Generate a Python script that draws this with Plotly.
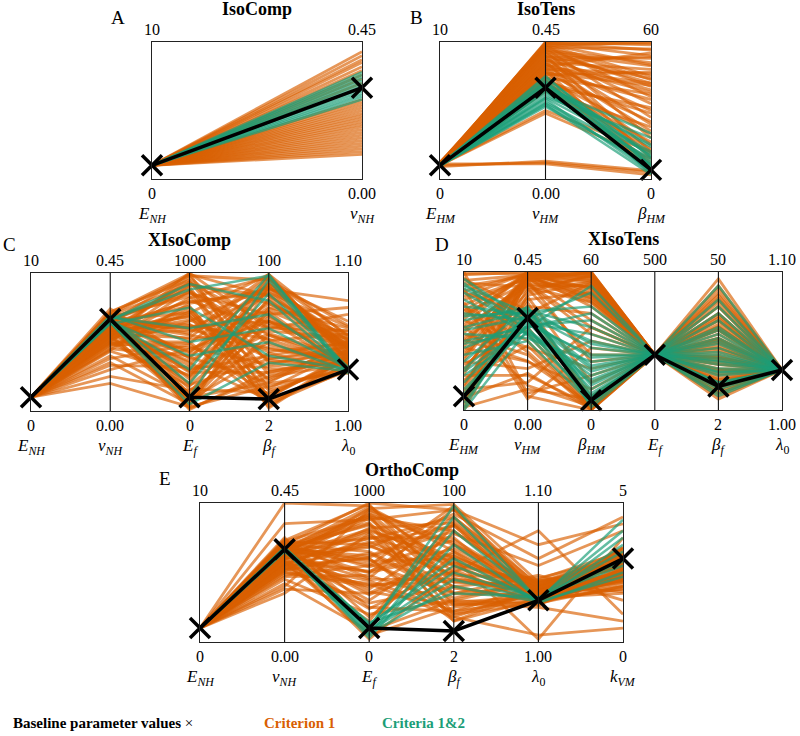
import plotly.graph_objects as go

W, H = 800, 736
ORANGE = "rgba(217,95,2,0.66)"
GREEN = "rgba(27,158,119,0.68)"
FONT = "Liberation Serif, DejaVu Serif, serif"

# ---------------- Panel A : IsoComp ----------------
A_names = ["<i>E</i><sub><i>NH</i></sub>", "<i>ν</i><sub><i>NH</i></sub>"]
A_lo = [0, 0.0]
A_hi = [10, 0.45]
A_top = ["10", "0.45"]
A_bot = ["0", "0.00"]
A_base = [1.0, 0.30]
A_orange = [[1.0, v] for v in [0.418, 0.405, 0.392, 0.383, 0.369, 0.356, 0.342, 0.329, 0.315,
                               0.261, 0.252, 0.243, 0.234, 0.225, 0.216, 0.207, 0.198, 0.189,
                               0.180, 0.171, 0.162, 0.153, 0.144, 0.135, 0.126, 0.117, 0.108,
                               0.099, 0.090, 0.081]]
A_green = [[1.0, v] for v in [0.351, 0.342, 0.333, 0.324, 0.315, 0.306, 0.297, 0.288, 0.279,
                              0.270, 0.261]]

# ---------------- Panel B : IsoTens ----------------
B_names = ["<i>E</i><sub><i>HM</i></sub>", "<i>ν</i><sub><i>HM</i></sub>", "<i>β</i><sub><i>HM</i></sub>"]
B_lo = [0, 0.0, 0]
B_hi = [10, 0.45, 60]
B_top = ["10", "0.45", "60"]
B_bot = ["0", "0.00", "0"]
B_base = [1.0, 0.30, 4.0]
B_orange = [
    [1.0, 0.450, 58.8], [1.1, 0.446, 54], [1.0, 0.441, 45], [1.2, 0.437, 36], [1.0, 0.432, 57],
    [1.1, 0.428, 27], [1.0, 0.423, 51], [1.2, 0.419, 18], [0.9, 0.414, 42], [1.1, 0.410, 33],
    [1.0, 0.405, 12], [1.0, 0.401, 52.8], [1.2, 0.396, 24], [1.0, 0.392, 39], [0.9, 0.387, 9],
    [1.1, 0.383, 48], [1.0, 0.378, 30], [1.2, 0.374, 21], [1.0, 0.369, 55.2], [1.1, 0.365, 15],
    [1.0, 0.360, 42], [0.9, 0.356, 6], [1.1, 0.351, 34.8], [1.0, 0.347, 25.2], [1.2, 0.342, 46.8],
    [1.0, 0.338, 10.8], [1.1, 0.333, 37.2], [1.0, 0.329, 19.8], [1.0, 0.324, 4.8], [0.9, 0.320, 28.8],
    [1.1, 0.315, 16.2], [1.0, 0.311, 7.2], [1.0, 0.306, 31.2], [1.1, 0.297, 13.2], [1.0, 0.288, 22.8],
    [1.0, 0.437, 60], [1.1, 0.446, 59.4], [1.0, 0.225, 12], [1.0, 0.216, 9], [1.0, 0.054, 3],
    [1.1, 0.050, 1.8], [0.9, 0.059, 3.6],
    [1.0, 0.448, 56.5], [1.1, 0.443, 50], [1.0, 0.434, 43.5], [1.2, 0.426, 40.5], [1.0, 0.417, 49.5],
    [1.1, 0.403, 44], [1.0, 0.389, 53.5], [1.0, 0.376, 38], [1.1, 0.362, 46], [1.0, 0.349, 41],
]
B_green = [
    [1.0, 0.324, 6], [1.0, 0.315, 10], [1.1, 0.306, 4], [1.0, 0.297, 15], [0.9, 0.288, 8],
    [1.0, 0.279, 12], [1.0, 0.270, 18], [1.1, 0.261, 3], [1.0, 0.252, 9], [1.0, 0.248, 5],
    [1.0, 0.320, 2.5], [1.0, 0.310, 14], [1.0, 0.290, 7], [1.0, 0.266, 11], [1.0, 0.300, 20],
    [1.0, 0.300, 3.5], [1.0, 0.338, 5.5], [1.0, 0.333, 9.5], [1.0, 0.243, 2], [1.0, 0.238, 6.5],
]

# ---------------- Panel C : XIsoComp ----------------
C_names = ["<i>E</i><sub><i>NH</i></sub>", "<i>ν</i><sub><i>NH</i></sub>", "<i>E</i><sub><i>f</i></sub>",
           "<i>β</i><sub><i>f</i></sub>", "<i>λ</i><sub>0</sub>"]
C_lo = [0, 0.0, 0, 2, 1.00]
C_hi = [10, 0.45, 1000, 100, 1.10]
C_top = ["10", "0.45", "1000", "100", "1.10"]
C_bot = ["0", "0.00", "0", "2", "1.00"]
C_base = [1.0, 0.30, 100, 10.5, 1.03]
C_orange = [
    [1.0, 0.315, 980, 95.1, 1.055], [1.0, 0.293, 900, 11.8, 1.040], [1.0, 0.270, 800, 60.8, 1.070],
    [1.0, 0.248, 700, 31.4, 1.035], [1.0, 0.306, 600, 85.3, 1.045], [1.0, 0.225, 500, 6.9, 1.030],
    [1.0, 0.203, 400, 75.5, 1.060], [1.0, 0.279, 300, 41.2, 1.050], [1.0, 0.261, 200, 98.0, 1.038],
    [1.0, 0.180, 100, 21.6, 1.028], [1.0, 0.158, 50, 55.9, 1.033], [1.0, 0.324, 950, 36.3, 1.042],
    [1.0, 0.297, 850, 70.6, 1.075], [1.0, 0.234, 750, 16.7, 1.032], [1.0, 0.216, 650, 90.2, 1.052],
    [1.0, 0.288, 550, 46.1, 1.036], [1.0, 0.135, 450, 65.7, 1.048], [1.0, 0.270, 350, 9.8, 1.029],
    [1.0, 0.252, 250, 80.4, 1.044], [1.0, 0.113, 150, 51.0, 1.031], [1.0, 0.315, 20, 26.5, 1.034],
    [1.0, 0.239, 1000, 60.8, 1.058], [1.0, 0.302, 880, 4.0, 1.039], [1.0, 0.198, 780, 88.2, 1.080],
    [1.0, 0.275, 680, 39.2, 1.046], [1.0, 0.257, 580, 72.6, 1.030], [1.0, 0.171, 480, 13.8, 1.037],
    [1.0, 0.333, 380, 95.1, 1.062], [1.0, 0.284, 280, 29.4, 1.041], [1.0, 0.225, 180, 68.6, 1.035],
    [1.0, 0.248, 80, 43.2, 1.027], [1.0, 0.311, 920, 78.4, 1.050], [1.0, 0.207, 720, 23.6, 1.043],
    [1.0, 0.266, 620, 53.0, 1.033], [1.0, 0.293, 420, 92.2, 1.065], [1.0, 0.149, 320, 33.4, 1.039],
    [1.0, 0.320, 120, 62.8, 1.047], [1.0, 0.090, 30, 19.6, 1.030], [1.0, 0.243, 970, 49.0, 1.036],
    [1.0, 0.279, 520, 58.8, 1.053],
    [1.0, 0.290, 990, 84.0, 1.045], [1.0, 0.262, 940, 28.0, 1.038], [1.0, 0.300, 860, 52.0, 1.056],
    [1.0, 0.230, 820, 97.0, 1.041], [1.0, 0.284, 760, 8.0, 1.034], [1.0, 0.254, 660, 44.0, 1.049],
    [1.0, 0.310, 560, 99.0, 1.037], [1.0, 0.220, 460, 35.0, 1.044], [1.0, 0.270, 360, 70.0, 1.032],
    [1.0, 0.195, 260, 90.0, 1.051], [1.0, 0.305, 160, 15.0, 1.036], [1.0, 0.240, 60, 66.0, 1.040],
    [1.0, 0.288, 30, 90.0, 1.045], [1.0, 0.300, 70, 75.0, 1.052], [1.0, 0.275, 130, 82.0, 1.038],
    [1.0, 0.310, 230, 93.0, 1.047], [1.0, 0.260, 330, 88.0, 1.042], [1.0, 0.295, 430, 78.0, 1.055],
    [1.0, 0.250, 530, 97.0, 1.036], [1.0, 0.285, 630, 25.0, 1.048], [1.0, 0.240, 730, 12.0, 1.041],
    [1.0, 0.305, 830, 38.0, 1.033], [1.0, 0.268, 930, 64.0, 1.058], [1.0, 0.320, 995, 18.0, 1.044],
    [1.0, 0.226, 870, 56.0, 1.037], [1.0, 0.280, 790, 86.0, 1.061], [1.0, 0.255, 690, 5.0, 1.040],
    [1.0, 0.300, 590, 47.0, 1.035], [1.0, 0.215, 490, 92.0, 1.046], [1.0, 0.290, 390, 22.0, 1.051],
    [1.0, 0.272, 290, 57.0, 1.039], [1.0, 0.312, 190, 39.0, 1.043], [1.0, 0.245, 90, 73.0, 1.049],
    [1.0, 0.283, 10, 30.0, 1.036], [1.0, 0.298, 710, 99.0, 1.054], [1.0, 0.262, 610, 66.0, 1.031],
    [1.0, 0.235, 910, 84.0, 1.047],
]
C_green = [
    [1.0, 0.297, 880, 98.0, 1.030], [1.0, 0.288, 100, 95.1, 1.028], [1.0, 0.306, 600, 70.6, 1.031],
    [1.0, 0.293, 400, 51.0, 1.029], [1.0, 0.302, 200, 85.3, 1.032], [1.0, 0.284, 750, 41.2, 1.030],
    [1.0, 0.297, 300, 99.0, 1.027], [1.0, 0.311, 500, 60.8, 1.031], [1.0, 0.288, 50, 36.3, 1.029],
    [1.0, 0.297, 920, 80.4, 1.030],
]

# ---------------- Panel D : XIsoTens ----------------
D_names = ["<i>E</i><sub><i>HM</i></sub>", "<i>ν</i><sub><i>HM</i></sub>", "<i>β</i><sub><i>HM</i></sub>",
           "<i>E</i><sub><i>f</i></sub>", "<i>β</i><sub><i>f</i></sub>", "<i>λ</i><sub>0</sub>"]
D_lo = [0, 0.0, 0, 0, 2, 1.00]
D_hi = [10, 0.45, 60, 500, 50, 1.10]
D_top = ["10", "0.45", "60", "500", "50", "1.10"]
D_bot = ["0", "0.00", "0", "0", "2", "1.00"]
D_base = [1.0, 0.30, 4.2, 200, 10.2, 1.029]
D_orange = [
    [9.8, 0.450, 57, 200, 45.2, 1.029], [9.0, 0.437, 48, 200, 35.6, 1.029], [8.0, 0.428, 60, 200, 26.0, 1.029],
    [7.0, 0.414, 36, 200, 16.4, 1.029], [6.0, 0.405, 54, 200, 6.8, 1.029], [5.0, 0.396, 24, 200, 40.4, 1.029],
    [4.0, 0.383, 58.8, 200, 30.8, 1.029], [3.0, 0.369, 12, 200, 11.6, 1.029], [2.0, 0.360, 51, 200, 21.2, 1.029],
    [1.0, 0.351, 3, 200, 47.6, 1.029], [0.5, 0.338, 42, 200, 9.2, 1.029], [9.5, 0.324, 6, 200, 28.4, 1.029],
    [8.5, 0.315, 55.2, 200, 18.8, 1.029], [7.5, 0.225, 1.2, 200, 14.0, 1.029], [6.5, 0.203, 18, 200, 33.2, 1.029],
    [5.5, 0.180, 0, 200, 23.6, 1.029], [4.5, 0.158, 9, 200, 10.6, 1.029], [3.5, 0.135, 30, 200, 38.0, 1.029],
    [2.5, 0.113, 1.8, 200, 12.6, 1.029], [1.5, 0.090, 36, 200, 20.2, 1.029], [0.2, 0.068, 4.8, 200, 29.8, 1.029],
    [10.0, 0.054, 15, 200, 7.8, 1.029], [8.8, 0.045, 0, 200, 42.8, 1.029], [7.8, 0.036, 27, 200, 15.4, 1.029],
    [6.8, 0.441, 45, 200, 25.0, 1.029], [5.8, 0.419, 60, 200, 34.6, 1.029], [4.8, 0.432, 39, 200, 5.8, 1.029],
    [3.8, 0.446, 52.8, 200, 17.8, 1.029], [2.8, 0.410, 33, 200, 27.0, 1.029], [1.8, 0.392, 58.2, 200, 39.4, 1.029],
    [0.8, 0.423, 21, 200, 22.2, 1.029], [0.0, 0.374, 55.8, 200, 31.8, 1.029], [9.2, 0.401, 46.8, 200, 14.5, 1.029],
    [6.2, 0.450, 59.4, 200, 44.2, 1.029], [3.3, 0.270, 3, 200, 9.7, 1.029], [7.2, 0.446, 57.6, 200, 29.8, 1.029],
    [4.2, 0.437, 49.2, 200, 7.8, 1.029], [1.2, 0.441, 59.4, 200, 35.6, 1.029], [8.6, 0.446, 51.6, 200, 23.1, 1.029],
    [5.2, 0.410, 54, 200, 19.3, 1.029],
    [9.9, 0.445, 59, 200, 41.0, 1.029], [9.4, 0.440, 53, 200, 31.0, 1.029], [8.2, 0.447, 56, 200, 24.0, 1.029],
    [7.6, 0.432, 50, 200, 20.0, 1.029], [6.6, 0.449, 58, 200, 38.0, 1.029], [5.6, 0.425, 47, 200, 12.0, 1.029],
    [4.6, 0.444, 55, 200, 27.0, 1.029], [3.6, 0.430, 60, 200, 33.0, 1.029], [2.6, 0.448, 50.4, 200, 8.5, 1.029],
    [1.6, 0.436, 56.4, 200, 42.0, 1.029], [0.6, 0.450, 58.5, 200, 18.0, 1.029], [0.3, 0.428, 48.6, 200, 25.5, 1.029],
    [9.6, 0.250, 2, 200, 30.0, 1.029], [7.3, 0.190, 0.6, 200, 20.5, 1.029], [5.1, 0.160, 2.4, 200, 13.0, 1.029],
    [2.2, 0.210, 1, 200, 26.5, 1.029], [0.9, 0.120, 0.3, 200, 16.0, 1.029], [6.1, 0.080, 1.5, 200, 34.0, 1.029],
]
D_green = [
    [9.0, 0.315, 30, 200, 30.8, 1.029], [7.0, 0.293, 18, 200, 21.2, 1.029], [5.0, 0.270, 42, 200, 11.6, 1.029],
    [3.0, 0.306, 6, 200, 40.4, 1.029], [1.0, 0.279, 24, 200, 16.4, 1.029], [8.0, 0.248, 12, 200, 26.0, 1.029],
    [6.0, 0.324, 36, 200, 9.2, 1.029], [4.0, 0.225, 3, 200, 35.6, 1.029], [2.0, 0.297, 51, 200, 18.8, 1.029],
    [0.0, 0.261, 15, 200, 14.0, 1.029], [9.5, 0.288, 9, 200, 23.6, 1.029], [7.5, 0.311, 27, 200, 6.8, 1.029],
    [5.5, 0.234, 21, 200, 28.4, 1.029], [3.5, 0.338, 1.2, 200, 45.2, 1.029], [1.5, 0.275, 39, 200, 15.4, 1.029],
    [0.5, 0.302, 4.8, 200, 20.2, 1.029], [8.5, 0.266, 54, 200, 11.6, 1.029], [6.5, 0.333, 7.2, 200, 33.2, 1.029],
    [4.5, 0.284, 33, 200, 7.8, 1.029], [2.5, 0.252, 16.8, 200, 25.0, 1.029], [1.2, 0.315, 10.8, 200, 17.8, 1.029],
    [8.8, 0.288, 22.8, 200, 29.8, 1.029], [4.8, 0.257, 13.2, 200, 10.6, 1.029], [6.8, 0.320, 45, 200, 22.2, 1.029],
    [2.8, 0.270, 3, 200, 15.0, 1.029], [0.2, 0.329, 28.8, 200, 27.0, 1.029], [9.2, 0.243, 6, 200, 19.3, 1.029],
    [5.8, 0.302, 19.2, 200, 38.0, 1.029],
]

# ---------------- Panel E : OrthoComp ----------------
E_names = ["<i>E</i><sub><i>NH</i></sub>", "<i>ν</i><sub><i>NH</i></sub>", "<i>E</i><sub><i>f</i></sub>",
           "<i>β</i><sub><i>f</i></sub>", "<i>λ</i><sub>0</sub>", "<i>k</i><sub><i>VM</i></sub>"]
E_lo = [0, 0.0, 0, 2, 1.00, 0]
E_hi = [10, 0.45, 1000, 100, 1.10, 5]
E_top = ["10", "0.45", "1000", "100", "1.10", "5"]
E_bot = ["0", "0.00", "0", "2", "1.00", "0"]
E_base = [1.0, 0.30, 100, 9.8, 1.03, 3.0]
E_orange = [
    [1.0, 0.315, 1000, 95.1, 1.040, 3.00], [1.0, 0.293, 900, 80.4, 1.035, 2.50], [1.0, 0.270, 800, 60.8, 1.030, 2.25],
    [1.0, 0.324, 700, 41.2, 1.045, 3.25], [1.0, 0.248, 600, 21.6, 1.028, 2.00], [1.0, 0.306, 500, 90.2, 1.038, 2.75],
    [1.0, 0.225, 400, 51.0, 1.032, 1.75], [1.0, 0.279, 300, 70.6, 1.042, 3.10], [1.0, 0.203, 200, 31.4, 1.027, 2.40],
    [1.0, 0.338, 100, 85.3, 1.036, 2.90], [1.0, 0.261, 50, 26.5, 1.033, 2.10], [1.0, 0.180, 950, 55.9, 1.044, 2.60],
    [1.0, 0.297, 850, 16.7, 1.031, 1.90], [1.0, 0.234, 750, 75.5, 1.026, 3.40], [1.0, 0.315, 650, 36.3, 1.048, 1.50],
    [1.0, 0.216, 550, 98.0, 1.034, 2.80], [1.0, 0.284, 450, 46.1, 1.039, 2.30], [1.0, 0.171, 350, 65.7, 1.030, 3.00],
    [1.0, 0.333, 250, 23.6, 1.041, 1.80], [1.0, 0.252, 150, 88.2, 1.037, 3.20], [1.0, 0.450, 980, 51.0, 1.080, 1.00],
    [1.0, 0.383, 880, 95.1, 1.070, 4.25], [1.0, 0.158, 780, 19.6, 1.005, 0.50], [1.0, 0.270, 680, 92.2, 1.060, 4.50],
    [1.0, 0.311, 580, 60.8, 1.002, 3.75], [1.0, 0.212, 480, 29.4, 1.025, 0.75], [1.0, 0.297, 380, 78.4, 1.055, 4.00],
    [1.0, 0.239, 280, 41.2, 1.029, 2.50], [1.0, 0.320, 180, 62.8, 1.035, 2.20], [1.0, 0.189, 80, 31.4, 1.043, 2.70],
    [1.0, 0.288, 920, 70.6, 1.033, 2.00], [1.0, 0.257, 720, 49.0, 1.046, 3.05], [1.0, 0.302, 620, 84.3, 1.031, 2.85],
    [1.0, 0.225, 420, 19.6, 1.038, 2.35], [1.0, 0.275, 20, 53.0, 1.027, 2.65], [1.0, 0.329, 990, 36.3, 1.040, 3.15],
    [1.0, 0.300, 970, 66.0, 1.036, 2.55], [1.0, 0.265, 930, 44.0, 1.041, 2.95], [1.0, 0.310, 860, 28.0, 1.034, 2.15],
    [1.0, 0.245, 820, 86.0, 1.039, 3.35], [1.0, 0.285, 760, 56.0, 1.032, 2.45], [1.0, 0.230, 640, 33.0, 1.044, 2.70],
    [1.0, 0.318, 540, 74.0, 1.037, 3.05], [1.0, 0.255, 440, 24.0, 1.030, 2.25], [1.0, 0.295, 340, 58.0, 1.042, 2.85],
    [1.0, 0.290, 950, 72.0, 1.035, 2.60], [1.0, 0.270, 890, 40.0, 1.031, 2.20], [1.0, 0.305, 840, 62.0, 1.038, 3.00],
    [1.0, 0.250, 790, 30.0, 1.033, 2.40], [1.0, 0.315, 740, 90.0, 1.041, 2.80], [1.0, 0.280, 690, 50.0, 1.029, 2.00],
    [1.0, 0.235, 610, 80.0, 1.036, 3.20], [1.0, 0.300, 560, 36.0, 1.034, 2.50], [1.0, 0.260, 510, 68.0, 1.040, 2.70],
    [1.0, 0.320, 460, 96.0, 1.032, 3.40], [1.0, 0.245, 410, 45.0, 1.037, 2.30], [1.0, 0.292, 360, 28.0, 1.030, 1.90],
    [1.0, 0.270, 960, 99.0, 1.043, 3.10], [1.0, 0.310, 910, 22.0, 1.035, 2.45], [1.0, 0.282, 810, 58.0, 1.039, 2.90],
    [1.0, 0.238, 710, 84.0, 1.033, 2.60], [1.0, 0.298, 600, 17.0, 1.037, 2.20], [1.0, 0.276, 500, 64.0, 1.031, 3.30],
    [1.0, 0.326, 900, 47.0, 1.036, 2.75], [1.0, 0.262, 240, 55.0, 1.034, 2.55],
]
E_green = [
    [1.0, 0.297, 100, 98.0, 1.030, 4.40], [1.0, 0.302, 50, 80.4, 1.031, 4.00], [1.0, 0.297, 120, 60.8, 1.029, 3.50],
    [1.0, 0.306, 80, 46.1, 1.030, 3.00], [1.0, 0.293, 140, 36.3, 1.032, 2.75], [1.0, 0.302, 30, 70.6, 1.028, 2.50],
    [1.0, 0.297, 90, 51.0, 1.031, 3.25], [1.0, 0.302, 110, 90.2, 1.030, 3.75], [1.0, 0.297, 60, 41.2, 1.029, 2.35],
    [1.0, 0.306, 130, 55.9, 1.031, 2.90],
]

panels = [
    dict(letter="A", title="IsoComp", names=A_names, lo=A_lo, hi=A_hi, top=A_top, bot=A_bot,
         orange=A_orange, green=A_green, base=A_base, px=(152, 362), py=(42, 179), lxy=(118, 17)),
    dict(letter="B", title="IsoTens", names=B_names, lo=B_lo, hi=B_hi, top=B_top, bot=B_bot,
         orange=B_orange, green=B_green, base=B_base, px=(440, 651), py=(42, 179), lxy=(416, 17)),
    dict(letter="C", title="XIsoComp", names=C_names, lo=C_lo, hi=C_hi, top=C_top, bot=C_bot,
         orange=C_orange, green=C_green, base=C_base, px=(31, 348), py=(273, 411), lxy=(9, 245)),
    dict(letter="D", title="XIsoTens", names=D_names, lo=D_lo, hi=D_hi, top=D_top, bot=D_bot,
         orange=D_orange, green=D_green, base=D_base, px=(464, 782), py=(272, 410), lxy=(442, 245)),
    dict(letter="E", title="OrthoComp", names=E_names, lo=E_lo, hi=E_hi, top=E_top, bot=E_bot,
         orange=E_orange, green=E_green, base=E_base, px=(200, 623), py=(503, 642), lxy=(165, 478)),
]


def fx(px):
    return px / W


def fy(py):
    return 1 - py / H


fig = go.Figure()
annotations = []
shapes = []
layout_axes = {}

for i, p in enumerate(panels, start=1):
    sfx = "" if i == 1 else str(i)
    xr, yr = "x" + sfx, "y" + sfx
    n = len(p["names"])
    xs = list(range(n))

    def norm(row, p=p):
        return [(v - l) / (h - l) for v, l, h in zip(row, p["lo"], p["hi"])]

    for row in p["orange"]:
        fig.add_trace(go.Scatter(x=xs, y=norm(row), mode="lines", line=dict(color=ORANGE, width=2.8),
                                 xaxis=xr, yaxis=yr, showlegend=False, hoverinfo="skip"))
    for row in p["green"]:
        fig.add_trace(go.Scatter(x=xs, y=norm(row), mode="lines", line=dict(color=GREEN, width=2.5),
                                 xaxis=xr, yaxis=yr, showlegend=False, hoverinfo="skip"))
    fig.add_trace(go.Scatter(x=xs, y=norm(p["base"]), mode="lines+markers",
                             line=dict(color="black", width=3.5),
                             marker=dict(symbol="x-thin", size=20, line=dict(color="black", width=3.5)),
                             xaxis=xr, yaxis=yr, showlegend=False, hoverinfo="skip", cliponaxis=False))

    (x0, x1), (y0, y1) = p["px"], p["py"]
    ax_common = dict(showgrid=False, zeroline=False, showticklabels=False, ticks="",
                     showline=True, mirror=True, linecolor="#222", linewidth=1.3, fixedrange=True)
    layout_axes["xaxis" + sfx] = dict(domain=[fx(x0), fx(x1)], range=[0, n - 1], anchor=yr, **ax_common)
    layout_axes["yaxis" + sfx] = dict(domain=[fy(y1), fy(y0)], range=[0, 1], anchor=xr, **ax_common)

    for k in range(1, n - 1):
        shapes.append(dict(type="line", xref=xr, yref=yr + " domain", x0=k, x1=k, y0=0, y1=1,
                           line=dict(color="#111", width=1.1), layer="above"))

    for k in range(n):
        annotations.append(dict(x=k, y=1, xref=xr, yref=yr + " domain", text=p["top"][k], showarrow=False,
                                xanchor="center", yanchor="bottom", yshift=2,
                                font=dict(family=FONT, size=16, color="black")))
        annotations.append(dict(x=k, y=0, xref=xr, yref=yr + " domain", text=p["bot"][k], showarrow=False,
                                xanchor="center", yanchor="top", yshift=-4,
                                font=dict(family=FONT, size=16, color="black")))
        annotations.append(dict(x=k, y=0, xref=xr, yref=yr + " domain", text=p["names"][k], showarrow=False,
                                xanchor="center", yanchor="top", yshift=-23,
                                font=dict(family=FONT, size=17, color="black")))
    annotations.append(dict(x=0.5, y=1, xref=xr + " domain", yref=yr + " domain", text="<b>" + p["title"] + "</b>",
                            showarrow=False, xanchor="center", yanchor="bottom", yshift=21,
                            font=dict(family=FONT, size=18, color="black")))
    lx, ly = p["lxy"]
    annotations.append(dict(x=fx(lx), y=fy(ly), xref="paper", yref="paper", text=p["letter"],
                            showarrow=False, xanchor="center", yanchor="middle",
                            font=dict(family=FONT, size=19, color="black")))

legend_items = [("<b>Baseline parameter values</b> ×", "black", 103),
                ("<b>Criterion 1</b>", "#d95f02", 299),
                ("<b>Criteria 1&2</b>", "#1b9e77", 423)]
for txt, col, cx in legend_items:
    annotations.append(dict(x=fx(cx), y=fy(723), xref="paper", yref="paper", text=txt, showarrow=False,
                            xanchor="center", yanchor="middle",
                            font=dict(family=FONT, size=15, color=col)))

fig.update_layout(width=W, height=H, margin=dict(l=0, r=0, t=0, b=0),
                  paper_bgcolor="white", plot_bgcolor="white",
                  annotations=annotations, shapes=shapes, showlegend=False, **layout_axes)

# remove the page's default body margin so the figure sits at the window's corner
fig.write_html("out.html", config={"displayModeBar": False, "staticPlot": True},
               post_script="document.body.style.margin='0';document.body.style.overflow='hidden';")
